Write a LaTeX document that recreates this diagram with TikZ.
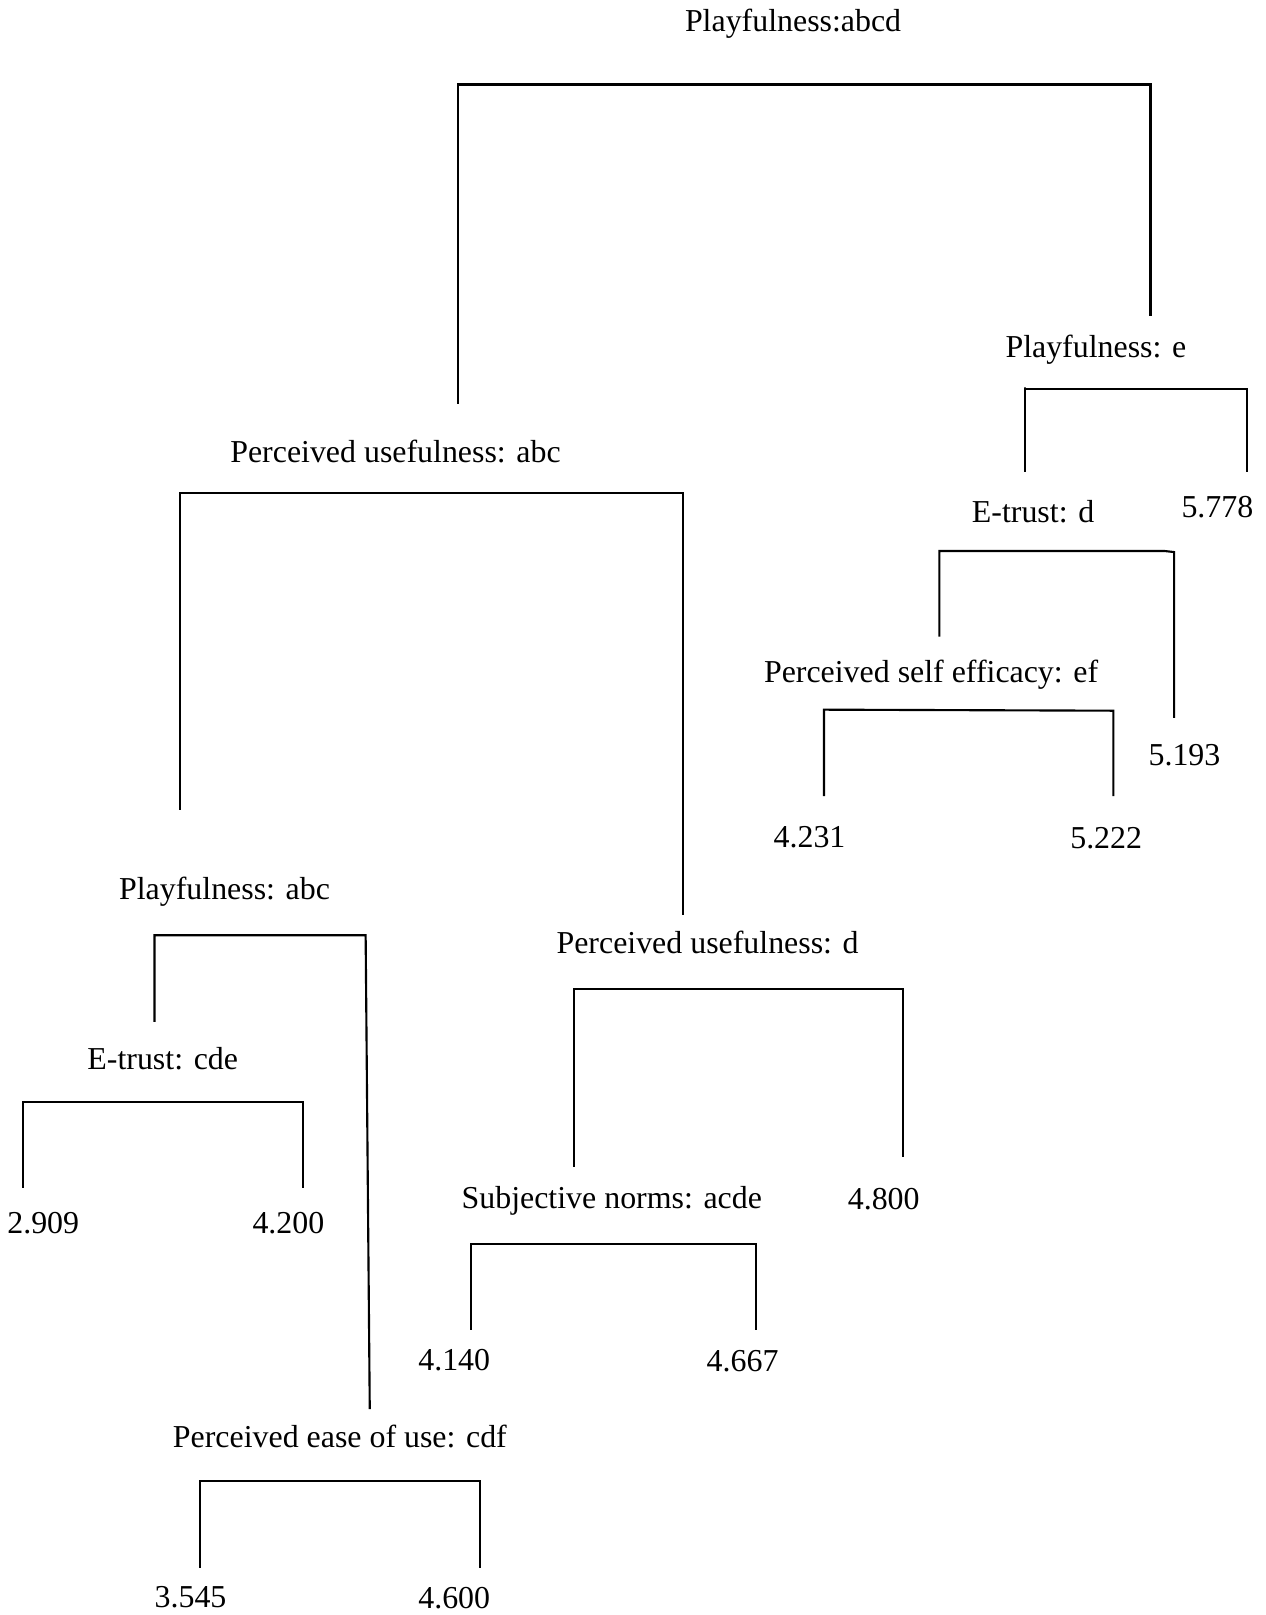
\documentclass[tikz,border=0pt]{standalone}
\usepackage{fontspec}
\setmainfont{Liberation Serif}
\begin{document}
\begin{tikzpicture}[x=0.3875pt, y=-0.3875pt, line width=0.8pt,
    lab/.style={font=\fontsize{12}{14}\selectfont, inner sep=0pt, anchor=base}]
    \useasboundingbox (0,0) rectangle (1229,1568);

    % Root: Playfulness abcd
    \node[lab] (pabcd) at (770, 31) {Playfulness:abcd};
    \coordinate (rootL) at (445, 392);
    \coordinate (rootR) at (1117, 307);
    \draw (rootL) |- (rootR |- 0,82) -- (rootR);

    % Right branch: Playfulness e
    \node[lab] (pe) at (1064, 347) {Playfulness: e};
    \coordinate (peL) at (995, 458);
    \coordinate (peR) at (1211, 458);
    \draw (peL) -- (995, 376) -- (995, 378) -- (1211, 378) -- (peR);
    \node[lab] (etd) at (1003, 507) {E-trust: d};
    \node[lab] (v5778) at (1182, 502) {5.778};

    % E-trust d
    \coordinate (etdL) at (912, 618);
    \coordinate (etdR) at (1140, 697);
    \draw (etdL) |- (1131, 535) -- (1140, 536) -- (etdR);
    \node[lab] (pse) at (904, 663) {Perceived self efficacy: ef};
    \node[lab] (v5193) at (1150, 743) {5.193};

    % Perceived self efficacy ef
    \coordinate (pseL) at (800, 773);
    \coordinate (pseR) at (1081, 773);
    \draw (pseL) -- (800, 689) -- (1081, 690) -- (pseR);
    \node[lab] (v4231) at (786, 823) {4.231};
    \node[lab] (v5222) at (1074, 824) {5.222};

    % Left branch: Perceived usefulness abc
    \node[lab] (puabc) at (384, 449) {Perceived usefulness: abc};
    \coordinate (puL) at (175, 786);
    \coordinate (puR) at (663, 888);
    \draw (puL) |- (puR |- 0,479) -- (puR);

    % Playfulness abc
    \node[lab] (pabc) at (218, 873) {Playfulness: abc};
    \coordinate (pabcL) at (150, 992);
    \coordinate (pabcR) at (359, 1368);
    \draw (pabcL) |- (355, 908) -- (pabcR);

    % E-trust cde
    \node[lab] (etcde) at (158, 1038) {E-trust: cde};
    \coordinate (etcL) at (22, 1153);
    \coordinate (etcR) at (294, 1153);
    \draw (etcL) |- (294, 1070) -- (etcR);
    \node[lab] (v2909) at (42, 1198) {2.909};
    \node[lab] (v4200) at (280, 1198) {4.200};

    % Perceived ease of use cdf
    \node[lab] (peou) at (330, 1405) {Perceived ease of use: cdf};
    \coordinate (peouL) at (194, 1522);
    \coordinate (peouR) at (466, 1522);
    \draw (peouL) |- (466, 1438) -- (peouR);
    \node[lab] (v3545) at (185, 1561) {3.545};
    \node[lab] (v4600) at (441, 1562) {4.600};

    % Perceived usefulness d
    \node[lab] (pud) at (687, 926) {Perceived usefulness: d};
    \coordinate (pudL) at (557, 1133);
    \coordinate (pudR) at (877, 1123);
    \draw (pudL) |- (877, 960) -- (pudR);
    \node[lab] (sn) at (594, 1173) {Subjective norms: acde};
    \node[lab] (v4800) at (858, 1174) {4.800};

    % Subjective norms acde
    \coordinate (snL) at (457, 1291);
    \coordinate (snR) at (734, 1291);
    \draw (snL) |- (734, 1208) -- (snR);
    \node[lab] (v4140) at (441, 1331) {4.140};
    \node[lab] (v4667) at (721, 1332) {4.667};
\end{tikzpicture}
\end{document}
